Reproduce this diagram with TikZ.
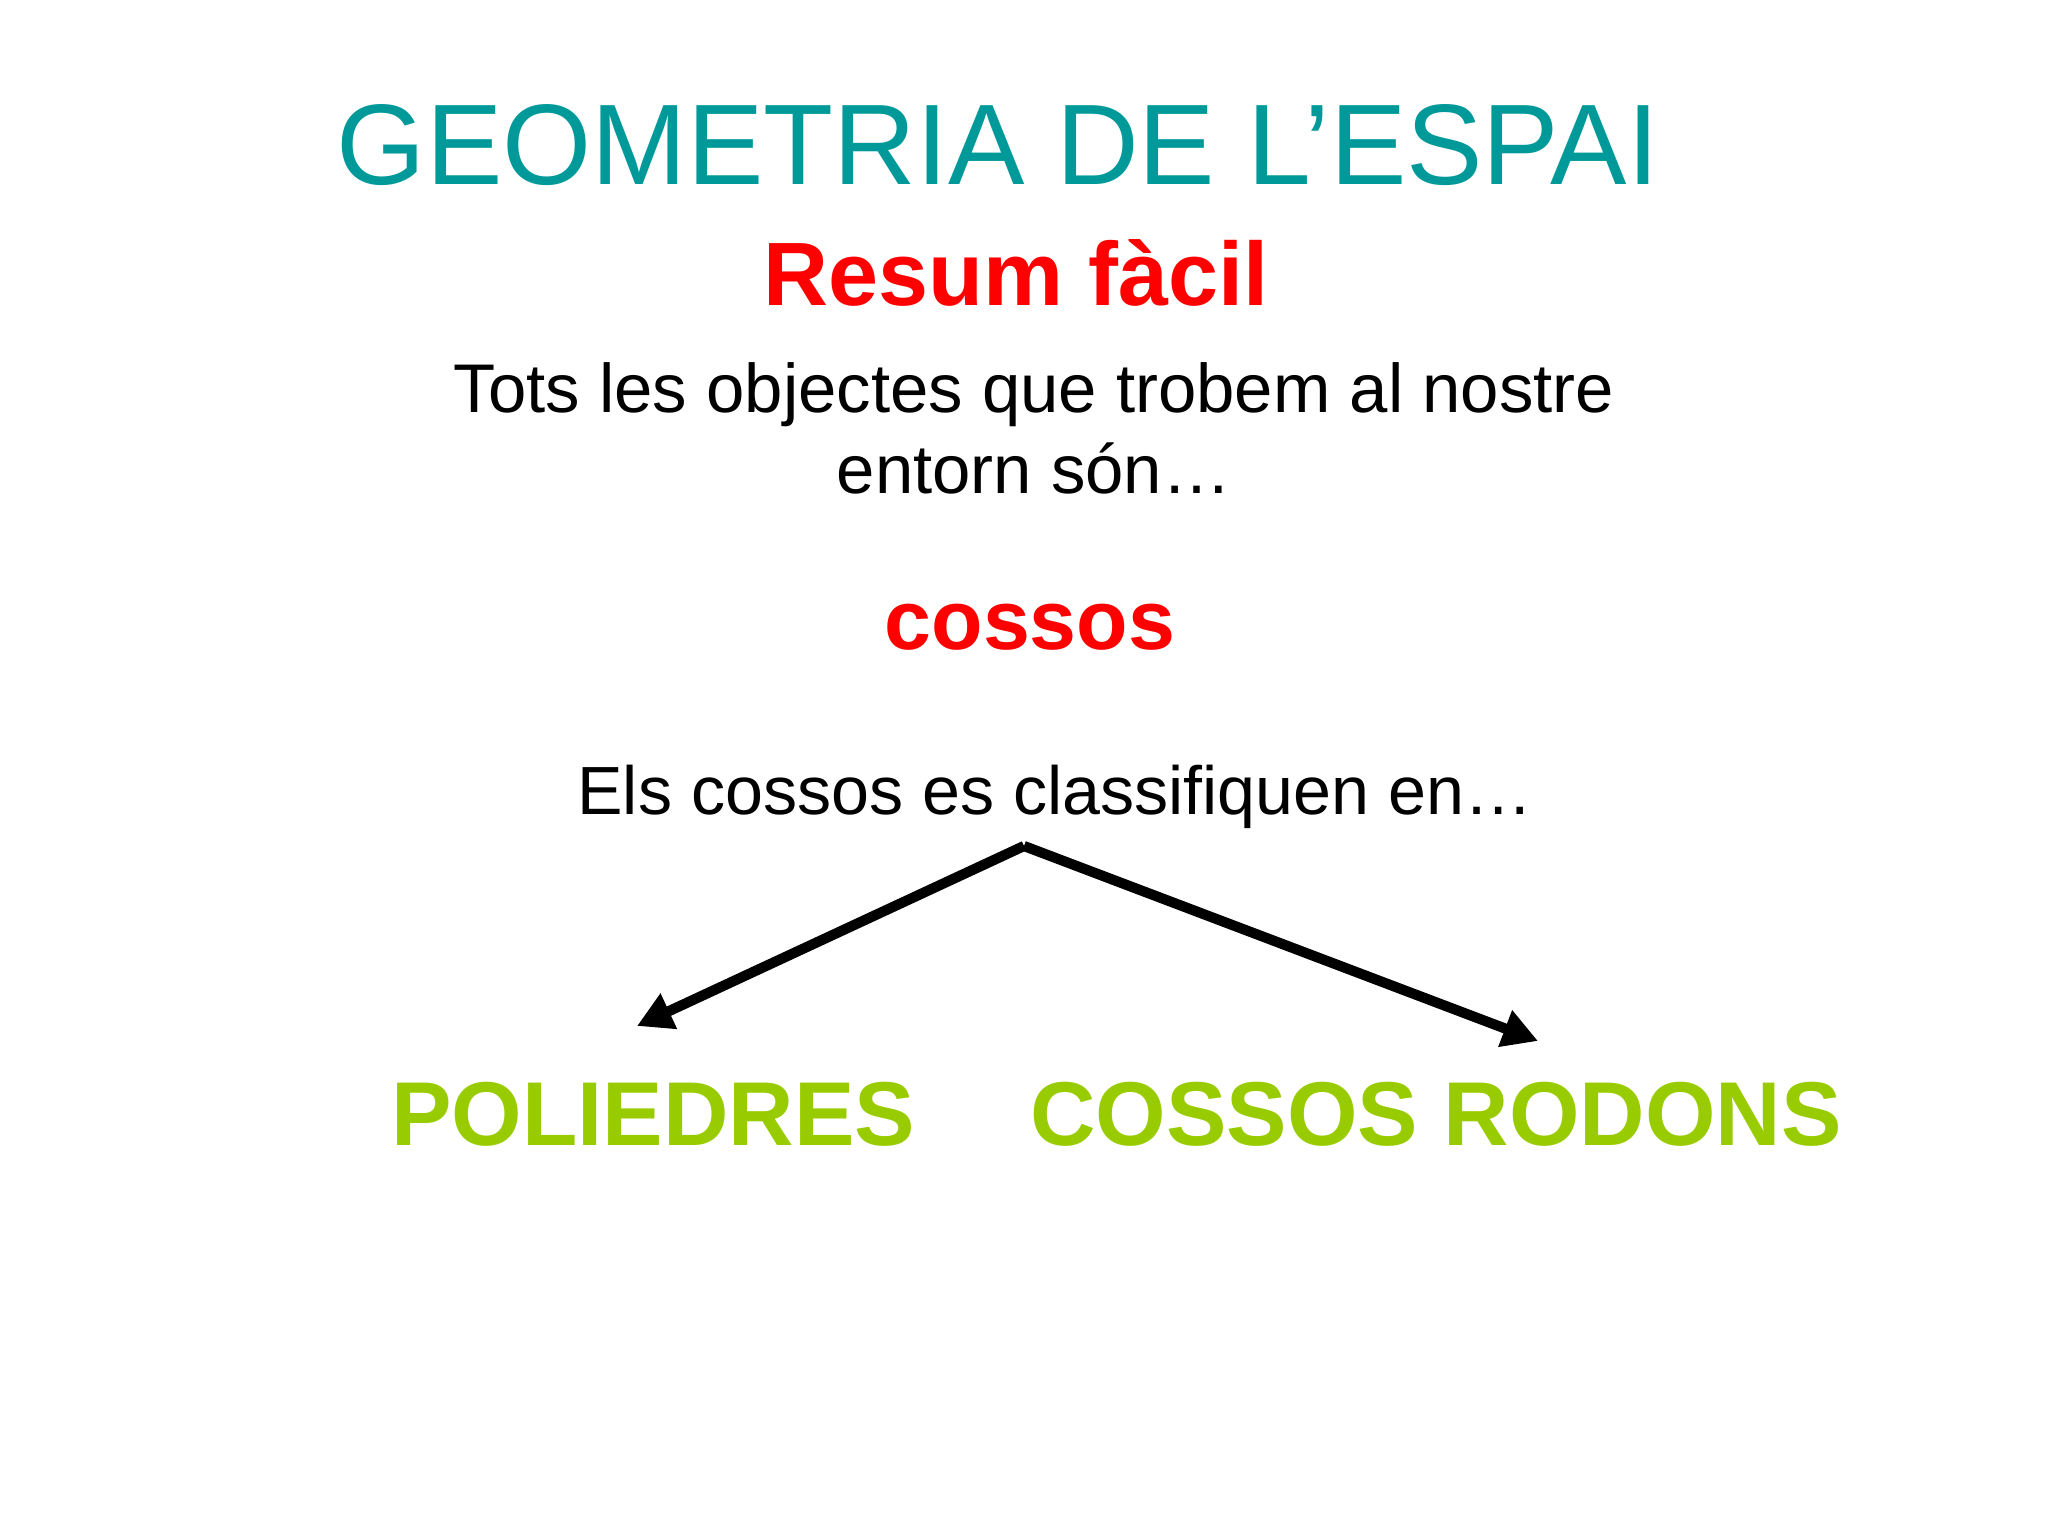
\documentclass[tikz,border=0pt]{standalone}
\usepackage{fontspec}
\setmainfont{Liberation Sans}
\usetikzlibrary{positioning}
\usetikzlibrary{arrows.meta}

\definecolor{titleteal}{RGB}{0,153,153}
\definecolor{slidered}{RGB}{255,0,0}
\definecolor{slidegreen}{RGB}{153,204,0}

\begin{document}
\begin{tikzpicture}[
    txt/.style={anchor=base, inner sep=0pt},
    kind/.style={txt, text=slidegreen, font=\fontsize{25.8}{30}\selectfont\bfseries},
    branch/.style={line width=2.9pt, -{Triangle[length=10pt,width=10.5pt]}}
  ]
    \useasboundingbox (0,0) rectangle (20.48,-15.36);

    \node(title) [txt, text=titleteal, font=\fontsize{32.6}{36}\selectfont] at (9.98,-1.85) {GEOMETRIA DE L’ESPAI};
    \node(subtitle) [txt, text=slidered, font=\fontsize{25.6}{29}\selectfont\bfseries] at (10.16,-3.06) {Resum fàcil};
    \node(intro1) [txt, font=\fontsize{19.6}{23}\selectfont] at (10.34,-4.13) {Tots les objectes que trobem al nostre};
    \node(intro2) [txt, font=\fontsize{19.6}{23}\selectfont] at (10.34,-4.94) {entorn són…};
    \node(cossos) [txt, text=slidered, font=\fontsize{24}{28}\selectfont\bfseries] at (10.30,-6.50) {cossos};
    \node(classif) [txt, font=\fontsize{19.4}{23}\selectfont] at (10.55,-8.14) {Els cossos es classifiquen en…};

    \node(poli) [kind] at (6.53,-11.45) {POLIEDRES};
    \node(rodons) [kind] at (14.36,-11.45) {COSSOS RODONS};

    \coordinate (apex) at (10.24,-8.46);
    \coordinate (politip) at (6.37,-10.26);
    \coordinate (rodonstip) at (15.38,-10.41);

    \draw[branch] (apex) -- (politip);
    \draw[branch] (apex) -- (rodonstip);
\end{tikzpicture}
\end{document}
